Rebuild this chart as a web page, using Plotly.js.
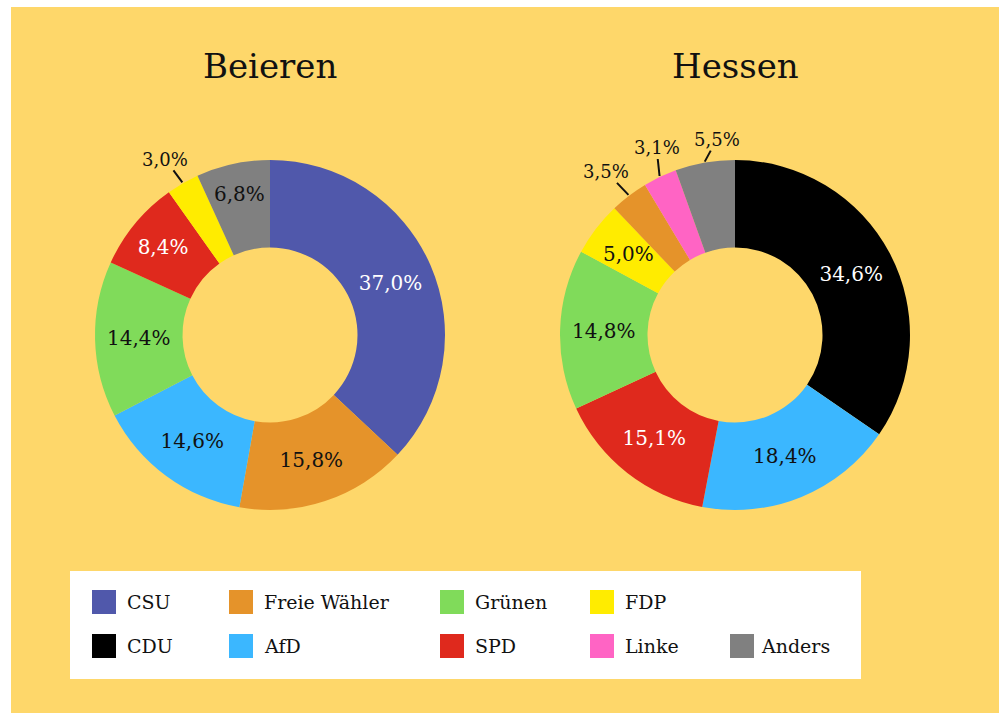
<!DOCTYPE html>
<html>
<head>
<meta charset="utf-8">
<script src="https://cdn.plot.ly/plotly-3.0.1.min.js"></script>
<style>
  html, body { margin: 0; padding: 0; background: #ffffff; overflow: hidden; }
  #chart { position: absolute; left: 11px; top: 7px; width: 988px; height: 706px; }
</style>
</head>
<body>
<div id="chart"></div>
<script>
// ---------------- data ----------------
const beierenLabels = ['CSU', 'Freie Wähler', 'AfD', 'Grünen', 'SPD', 'FDP', 'Anders'];
const beierenValues = [37.0, 15.8, 14.6, 14.4, 8.4, 3.0, 6.8];

const hessenLabels = ['CDU', 'AfD', 'SPD', 'Grünen', 'FDP', 'Freie Wähler', 'Linke', 'Anders'];
const hessenValues = [34.6, 18.4, 15.1, 14.8, 5.0, 3.5, 3.1, 5.5];

const parties = ['CSU', 'Freie Wähler', 'Grünen', 'FDP', 'CDU', 'AfD', 'SPD', 'Linke', 'Anders'];
const partyColors = ['#5058AB', '#E5932A', '#80DB5A', '#FFEC00', '#000000', '#3BB7FF', '#DF291D', '#FF64C4', '#808080'];
const titles = ['Beieren', 'Hessen'];

// ---------------- styling / layout constants ----------------
const W = 988, H = 706, OX = 11, OY = 7;
const FONT = 'DejaVu Serif, Liberation Serif, serif';
const BG = '#FED76A';
const colorOf = l => partyColors[parties.indexOf(l)];
const whiteText = ['CSU', 'CDU', 'SPD'];
// slices whose label sits outside with a leader line
const outsideLabels = { Beieren: ['FDP'], Hessen: ['Freie Wähler', 'Linke', 'Anders'] };
// narrow slices whose label is centred in the ring without shrinking
const ringLabels = { Beieren: [], Hessen: ['FDP'] };
const RING_R = 134;
// label offsets (px) for outside labels, relative to the slice edge point
const outsideOffsets = {
  'Beieren|FDP': [-17, -23],
  'Hessen|Freie Wähler': [-22, -23],
  'Hessen|Linke': [-3, -28],
  'Hessen|Anders': [12, -22]
};

const px2x = p => (p - OX) / W;
const py2y = p => 1 - (p - OY) / H;

const domains = [
  { x: [px2x(95), px2x(445)], y: [py2y(510), py2y(160)] },
  { x: [px2x(560), px2x(910)], y: [py2y(510), py2y(160)] }
];

const sets = [
  { name: 'Beieren', labels: beierenLabels, values: beierenValues },
  { name: 'Hessen', labels: hessenLabels, values: hessenValues }
];

const fmt = v => v.toFixed(1).replace('.', ',') + '%';

const traces = sets.map((s, k) => {
  const skip = outsideLabels[s.name].concat(ringLabels[s.name]);
  return {
    type: 'pie',
    labels: s.labels,
    values: s.values,
    sort: false,
    direction: 'clockwise',
    rotation: 0,
    hole: 0.5,
    domain: domains[k],
    marker: { colors: s.labels.map(colorOf), line: { width: 0 } },
    texttemplate: s.labels.map(l => skip.includes(l) ? '' : '%{value:.1f}%'),
    textposition: s.labels.map(l => skip.includes(l) ? 'none' : 'inside'),
    insidetextorientation: 'horizontal',
    insidetextfont: {
      family: FONT, size: 20,
      color: s.labels.map(l => whiteText.includes(l) ? '#ffffff' : '#111111')
    },
    showlegend: false,
    hoverinfo: 'none'
  };
});

const annotations = [];
// titles
sets.forEach((s, k) => {
  const d = domains[k];
  annotations.push({
    xref: 'paper', yref: 'paper',
    x: (d.x[0] + d.x[1]) / 2, y: py2y(66),
    xanchor: 'center', yanchor: 'middle',
    text: titles[k], showarrow: false,
    font: { family: FONT, size: 34, color: '#111111' }
  });
});

// outside / ring labels, anchored at the mid angle of each slice
sets.forEach((s, k) => {
  const d = domains[k];
  const cxPx = OX + (d.x[0] + d.x[1]) / 2 * W;
  const cyPx = OY + (1 - (d.y[0] + d.y[1]) / 2) * H;
  const rPx = (d.x[1] - d.x[0]) * W / 2;
  const total = s.values.reduce((a, b) => a + b, 0);
  let cum = 0;
  s.labels.forEach((l, i) => {
    const mid = (cum + s.values[i] / 2) / total * 2 * Math.PI;
    cum += s.values[i];
    if (ringLabels[s.name].includes(l)) {
      annotations.push({
        xref: 'paper', yref: 'paper',
        x: px2x(cxPx + RING_R * Math.sin(mid)), y: py2y(cyPx - RING_R * Math.cos(mid)),
        xanchor: 'center', yanchor: 'middle',
        text: fmt(s.values[i]), showarrow: false,
        font: { family: FONT, size: 20, color: whiteText.includes(l) ? '#ffffff' : '#111111' }
      });
      return;
    }
    if (!outsideLabels[s.name].includes(l)) return;
    const r = rPx + 1;
    const ex = cxPx + r * Math.sin(mid);
    const ey = cyPx - r * Math.cos(mid);
    const off = outsideOffsets[s.name + '|' + l];
    annotations.push({
      xref: 'paper', yref: 'paper',
      x: px2x(ex), y: py2y(ey),
      ax: off[0], ay: off[1],
      text: fmt(s.values[i]),
      showarrow: true, arrowhead: 0, arrowwidth: 2, arrowcolor: '#111111',
      standoff: 0, borderpad: 0,
      font: { family: FONT, size: 18, color: '#111111' }
    });
  });
});

// legend (custom, to mirror the reference's grid)
const legendOrder = [['CSU', 'Freie Wähler', 'Grünen', 'FDP'], ['CDU', 'AfD', 'SPD', 'Linke', 'Anders']];
const colSwatchX = [92, 229, 440, 590, 730];
const rowCenterY = [602, 646];
const SW = 24;
const shapes = [{
  type: 'rect', xref: 'paper', yref: 'paper', layer: 'below',
  x0: px2x(70), x1: px2x(861), y0: py2y(679), y1: py2y(571),
  fillcolor: '#ffffff', line: { width: 0 }
}];
legendOrder.forEach((row, ri) => {
  row.forEach((l, ci) => {
    const sx = colSwatchX[ci], cy = rowCenterY[ri];
    shapes.push({
      type: 'rect', xref: 'paper', yref: 'paper',
      x0: px2x(sx), x1: px2x(sx + SW), y0: py2y(cy + SW / 2), y1: py2y(cy - SW / 2),
      fillcolor: colorOf(l), line: { width: 0 }
    });
    annotations.push({
      xref: 'paper', yref: 'paper',
      x: px2x(sx + SW + (ci === 4 ? 5 : 9)), y: py2y(cy),
      xanchor: 'left', yanchor: 'middle',
      text: l, showarrow: false,
      font: { family: FONT, size: 19, color: '#111111' }
    });
  });
});

const layout = {
  width: W, height: H,
  margin: { l: 0, r: 0, t: 0, b: 0 },
  paper_bgcolor: BG,
  plot_bgcolor: BG,
  separators: ',.',
  showlegend: false,
  uniformtext: { minsize: 20, mode: 'show' },
  font: { family: FONT, color: '#111111' },
  annotations: annotations,
  shapes: shapes
};

Plotly.newPlot('chart', traces, layout, { staticPlot: true, displayModeBar: false });
</script>
</body>
</html>
